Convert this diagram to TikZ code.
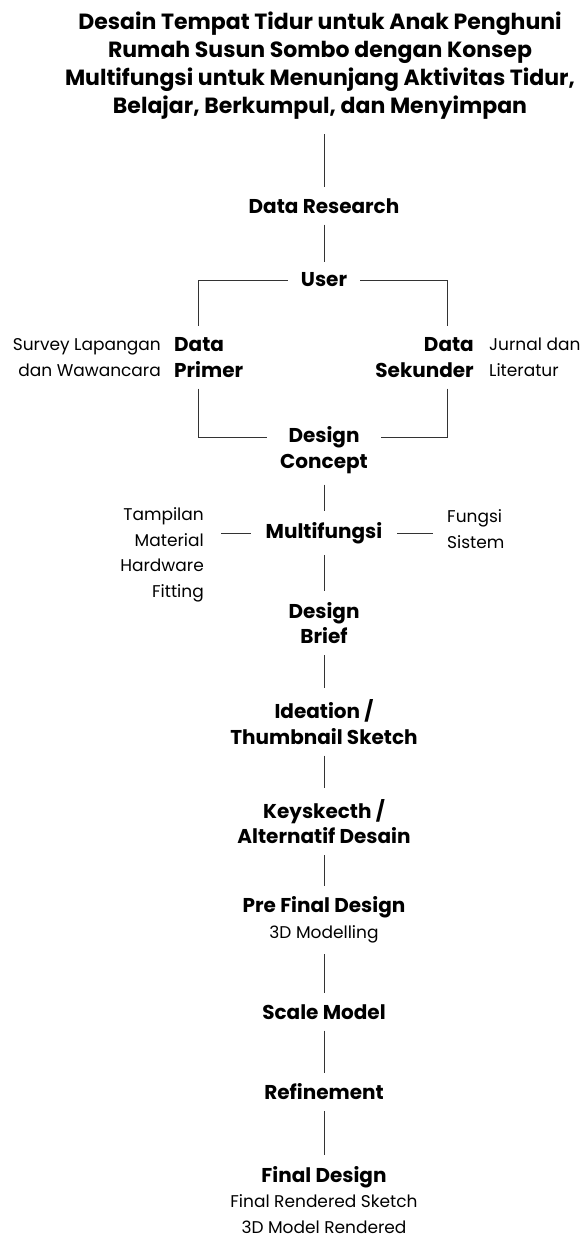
\documentclass[tikz,border=0pt]{standalone}
\usepackage{fontspec}
\setmainfont{Poppins}
\usetikzlibrary{positioning}

\newcommand{\stagenote}{\mdseries\fontsize{17}{26}\selectfont}

\begin{document}
\begin{tikzpicture}[
    x=1pt, y=1pt, node distance=13pt,
    stage/.style={font=\bfseries\fontsize{20}{25.5}\selectfont,
                  align=center, inner xsep=13pt, inner ysep=11pt},
    note/.style={font=\fontsize{17}{25.5}\selectfont, inner sep=0pt},
    link/.style={draw=black!80, line width=0.8pt}
  ]
  \useasboundingbox (0,0) rectangle (585,-1241);

  \node[stage, inner ysep=15pt, font=\bfseries\fontsize{22}{28}\selectfont]
    (title) at (320,-65.5)
    {Desain Tempat Tidur untuk Anak Penghuni\\Rumah Susun Sombo dengan Konsep\\
     Multifungsi untuk Menunjang Aktivitas Tidur,\\Belajar, Berkumpul, dan Menyimpan};
  \node[stage] (research) at (324,-206) {Data Research};
  \node[stage] (user) at (324,-280) {User};
  \node[stage, align=left, inner xsep=0pt, anchor=west] (primer) at (174,-357.5)
    {Data\\Primer};
  \node[stage, align=right, inner xsep=0pt, anchor=east] (sekunder) at (474,-357.5)
    {Data\\Sekunder};
  \node[note, align=right, left=13pt of primer] (survey)
    {Survey Lapangan\\dan Wawancara};
  \node[note, align=left, right=15pt of sekunder] (jurnal)
    {Jurnal dan\\Literatur};
  \node[stage] (concept) at (324,-450) {Design\\Concept};
  \node[stage, inner xsep=15pt] (multi) at (324,-533) {Multifungsi};
  \node[note, align=right, inner xsep=17pt, anchor=east] (aspek) at (221,-555)
    {Tampilan\\Material\\Hardware\\Fitting};
  \node[note, align=left, inner xsep=14pt, anchor=west] (fungsi) at (433,-529)
    {Fungsi\\Sistem};
  \node[stage] (brief) at (324,-623) {Design\\Brief};
  \node[stage] (ideation) at (324,-722) {Ideation /\\Thumbnail Sketch};
  \node[stage] (keysketch) at (324,-821.5) {Keyskecth /\\Alternatif Desain};
  \node[stage] (prefinal) at (324,-920)
    {Pre Final Design\\\stagenote 3D Modelling};
  \node[stage] (scale) at (324,-1012) {Scale Model};
  \node[stage] (refine) at (324,-1092) {Refinement};
  \node[stage] (final) at (324,-1200)
    {Final Design\\\stagenote Final Rendered Sketch\\\stagenote 3D Model Rendered};

  \draw[link] (research |- title.south) -- (research);
  \draw[link] (research) -- (user);
  \draw[link] (user) -| ([xshift=24pt]primer.north west);
  \draw[link] (user) -| ([xshift=-27pt]sekunder.north east);
  \draw[link] ([xshift=24pt]primer.south west) |- ([yshift=12.75pt]concept.west);
  \draw[link] ([xshift=-27pt]sekunder.south east) |- ([yshift=12.75pt]concept.east);
  \draw[link] (concept) -- (multi);
  \draw[link] (aspek.east |- multi) -- (multi);
  \draw[link] (multi) -- (fungsi.west |- multi);
  \draw[link] (multi) -- (brief);
  \draw[link] (brief) -- (ideation);
  \draw[link] (ideation) -- (keysketch);
  \draw[link] (keysketch) -- (prefinal);
  \draw[link] (prefinal) -- (scale);
  \draw[link] (scale) -- (refine);
  \draw[link] (refine) -- (final);
\end{tikzpicture}
\end{document}
